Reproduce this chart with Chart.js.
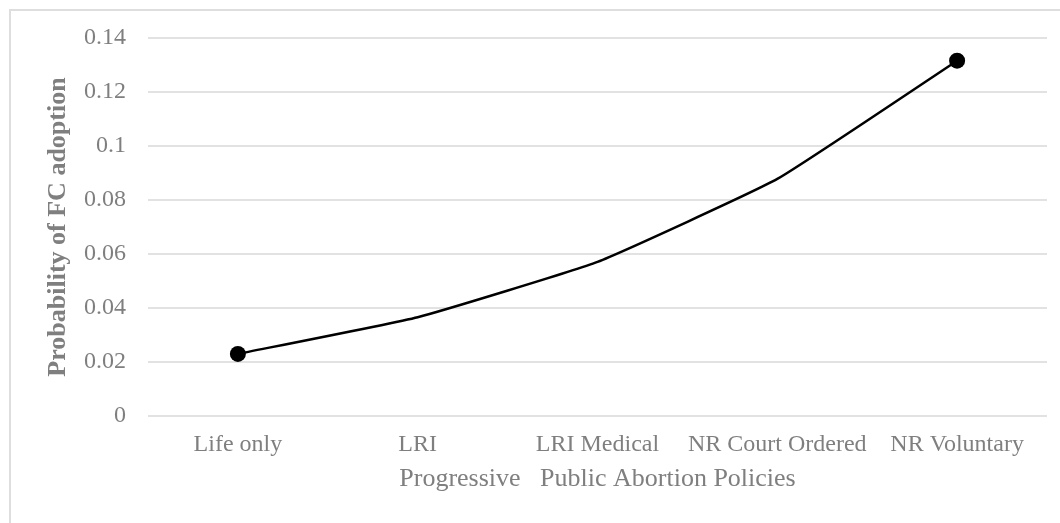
<!DOCTYPE html>
<html>
<head>
<meta charset="utf-8">
<title>Probability of FC adoption</title>
<script src="https://cdn.jsdelivr.net/npm/chart.js@4.4.1/dist/chart.umd.min.js"></script>
<style>
  html, body { margin: 0; padding: 0; background: #ffffff; }
  #wrap { width: 1060px; height: 523px; position: relative; }
</style>
</head>
<body>
<div id="wrap"><canvas id="chart" width="1060" height="523"></canvas></div>
<script>
// Categories along the x axis
const policies = ['Life only', 'LRI', 'LRI Medical', 'NR Court Ordered', 'NR Voluntary'];
// Predicted probability of FC adoption for each policy
const probability = [0.023, 0.0366, 0.0571, 0.0878, 0.1316];
// Y axis tick values
const yTicks = [0, 0.02, 0.04, 0.06, 0.08, 0.1, 0.12, 0.14];

const xTitle = 'Progressive   Public Abortion Policies';
const yTitle = 'Probability of FC adoption';

const SERIF = '"Liberation Serif", "Times New Roman", serif';
const GREY = '#7f7f7f';

// Light frame around the chart
const framePlugin = {
  id: 'frame',
  beforeDraw(chart) {
    const ctx = chart.ctx;
    ctx.save();
    ctx.fillStyle = '#ffffff';
    ctx.fillRect(0, 0, chart.width, chart.height);
    ctx.strokeStyle = '#dedede';
    ctx.lineWidth = 2;
    ctx.strokeRect(10, 10, chart.width + 20, chart.height + 20);
    ctx.restore();
  }
};

new Chart(document.getElementById('chart'), {
  type: 'line',
  data: {
    labels: policies,
    datasets: [{
      data: probability,
      borderColor: '#000000',
      backgroundColor: '#000000',
      borderWidth: 2.5,
      tension: 0.12,
      pointRadius: (c) => (c.dataIndex === 0 || c.dataIndex === probability.length - 1) ? 8 : 0,
      pointHoverRadius: (c) => (c.dataIndex === 0 || c.dataIndex === probability.length - 1) ? 8 : 0,
      pointBackgroundColor: '#000000',
      pointBorderWidth: 0,
      fill: false
    }]
  },
  options: {
    responsive: false,
    devicePixelRatio: 1,
    animation: false,
    layout: { padding: { top: 38, right: 13, bottom: 0, left: 0 } },
    plugins: {
      legend: { display: false },
      tooltip: { enabled: false },
      title: { display: false }
    },
    scales: {
      x: {
        type: 'category',
        offset: true,
        grid: { display: false, drawTicks: false },
        border: { display: false },
        ticks: {
          color: GREY,
          padding: 14,
          maxRotation: 0,
          autoSkip: false,
          font: { family: SERIF, size: 24 }
        },
        title: {
          display: true,
          text: xTitle,
          color: GREY,
          font: { family: SERIF, size: 26 },
          padding: { top: 0, bottom: 28 }
        },
        afterFit(scale) { scale.height = 107; }
      },
      y: {
        min: 0,
        max: 0.14,
        grid: { color: '#e2e2e2', lineWidth: 2, drawTicks: false },
        border: { display: false },
        afterBuildTicks(scale) { scale.ticks = yTicks.map(v => ({ value: v })); },
        ticks: {
          color: GREY,
          padding: 22,
          font: { family: SERIF, size: 24 },
          callback: (v) => String(+Number(v).toFixed(2))
        },
        title: {
          display: true,
          text: yTitle,
          color: GREY,
          font: { family: SERIF, size: 26, weight: 'bold' },
          padding: { top: 43, bottom: 0 }
        },
        afterFit(scale) { scale.width = 148; }
      }
    }
  },
  plugins: [framePlugin]
});
</script>
</body>
</html>
